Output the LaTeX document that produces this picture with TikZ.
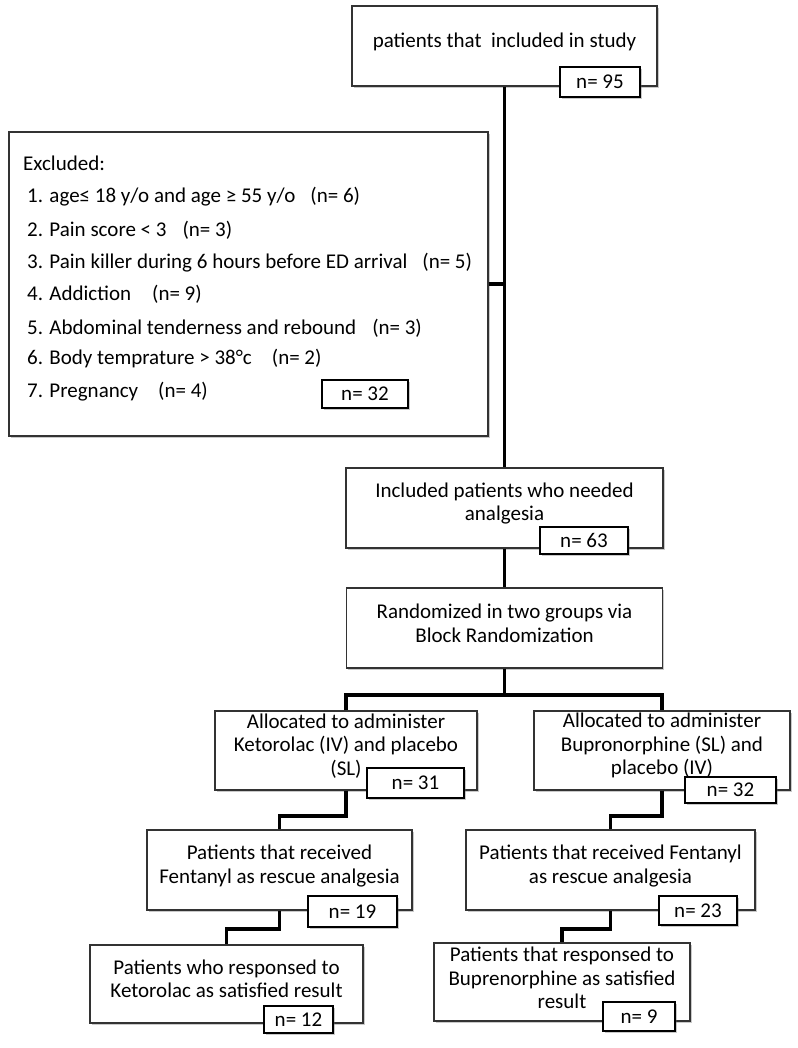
\documentclass[tikz,border=0pt]{standalone}
\usepackage{fontspec}
\setmainfont{Carlito}
\usetikzlibrary{shadows}
\begin{document}
\begin{tikzpicture}[x=1pt,y=-1pt,
  shad/.style={drop shadow={shadow xshift=1.5pt,shadow yshift=-2pt,opacity=.35,fill=black!60}},
  box/.style={draw=black!80, line width=1.4pt, fill=white, inner sep=0pt, shad},
  tx/.style={align=center, inner sep=0pt, font=\fontsize{21}{23.5}\selectfont},
  nbox/.style={draw=black, line width=1.4pt, fill=white, inner sep=0pt,
    font=\fontsize{21}{23}\selectfont, shad},
  conn/.style={line width=3.8pt, black, line join=miter},
  exitem/.style={anchor=west, inner sep=0pt, font=\fontsize{21}{23}\selectfont}]
\useasboundingbox[fill=white] (0,0) rectangle (797,1048);

% main boxes
\node[box, minimum width=305pt, minimum height=80pt] (top) at (504.5,46) {};
\node[box, minimum width=479pt, minimum height=304pt] (excl) at (248.5,284) {};
\node[box, minimum width=317pt, minimum height=80pt] (incl) at (504.5,508) {};
\node[box, minimum width=316pt, minimum height=80pt] (rand) at (504.5,628) {};
\node[box, minimum width=262pt, minimum height=79pt] (alL) at (346,750.5) {};
\node[box, minimum width=256pt, minimum height=79pt] (alR) at (662,750.5) {};
\node[box, minimum width=265pt, minimum height=80pt] (feL) at (279.5,870) {};
\node[box, minimum width=289pt, minimum height=80pt] (feR) at (610.5,870) {};
\node[box, minimum width=273pt, minimum height=78pt] (reL) at (226.5,984) {};
\node[box, minimum width=256pt, minimum height=78pt] (reR) at (562,982) {};

% box texts
\node[tx] (topT) at ([yshift=4pt]top.center) {patients that\ \ included in study};
\node[tx] (inclT) at ([yshift=4.5pt]incl.center) {Included patients who needed\\analgesia};
\node[tx] (randT) at ([yshift=4.5pt]rand.center) {Randomized in two groups via\\Block Randomization};
\node[tx] (alLT) at ([yshift=4.5pt]alL.center) {Allocated to administer\\Ketorolac (IV) and placebo\\(SL)};
\node[tx] (alRT) at ([yshift=5pt]alR.center) {Allocated to administer\\Bupronorphine (SL) and\\placebo (IV)};
\node[tx] (feLT) at ([yshift=4pt]feL.center) {Patients that received\\Fentanyl as rescue analgesia};
\node[tx] (feRT) at ([yshift=4pt]feR.center) {Patients that received Fentanyl\\as rescue analgesia};
\node[tx] (reLT) at ([yshift=5pt]reL.center) {Patients who responsed to\\Ketorolac as satisfied result};
\node[tx] (reRT) at ([yshift=4pt]reR.center) {Patients that responsed to\\Buprenorphine as satisfied\\result};

% excluded list
\node[exitem] (ex0) at (23,163) {Excluded:};
\node[exitem] (ex1) at (27,197) {1. age≤ 18 y/o and age ≥ 55 y/o\hspace{15pt}(n= 6)};
\node[exitem] (ex2) at (27,230) {2. Pain score < 3\hspace{16pt}(n= 3)};
\node[exitem] (ex3) at (27,263) {3. Pain killer during 6 hours before ED arrival\hspace{15pt}(n= 5)};
\node[exitem] (ex4) at (27,294) {4. Addiction\hspace{21pt}(n= 9)};
\node[exitem] (ex5) at (27,328) {5. Abdominal tenderness and rebound\hspace{16pt}(n= 3)};
\node[exitem] (ex6) at (27,359) {6. Body temprature > 38°c\hspace{20pt}(n= 2)};
\node[exitem] (ex7) at (27,392) {7. Pregnancy\hspace{20pt}(n= 4)};

% connectors
\draw[conn] (top.south) -- (top.south |- incl.north);
\draw[conn] (excl.east) -- (excl.east -| top.south);
\draw[conn] (incl.south) -- (rand.north);
\draw[conn] (rand.south) -- ++(0,26) coordinate (br);
\draw[conn] (alL.north) |- (br) -| (alR.north);
\draw[conn] (alL.south) -- ++(0,25) -| (feL.north);
\draw[conn] (alR.south) -- ++(0,25) -| (feR.north);
\draw[conn] (feL.south) -- ++(0,18) -| (reL.north);
\draw[conn] (feR.south) -- ++(0,18) -| (reR.north);

% n boxes
\node[nbox, minimum width=80pt, minimum height=30pt] (n95) at (600,82) {n= 95};
\node[nbox, minimum width=86pt, minimum height=28pt] (n32a) at (365,394) {n= 32};
\node[nbox, minimum width=88pt, minimum height=27pt] (n63) at (584,540.5) {n= 63};
\node[nbox, minimum width=97pt, minimum height=30pt] (n31) at (415.5,783) {n= 31};
\node[nbox, minimum width=91pt, minimum height=26pt] (n32b) at (730.5,790) {n= 32};
\node[nbox, minimum width=89pt, minimum height=31pt] (n19) at (352.5,911.5) {n= 19};
\node[nbox, minimum width=78pt, minimum height=29pt] (n23) at (698,910.5) {n= 23};
\node[nbox, minimum width=69pt, minimum height=27pt] (n12) at (298.5,1019.5) {n= 12};
\node[nbox, minimum width=72pt, minimum height=29pt] (n9) at (639,1016.5) {n= 9};
\end{tikzpicture}
\end{document}
